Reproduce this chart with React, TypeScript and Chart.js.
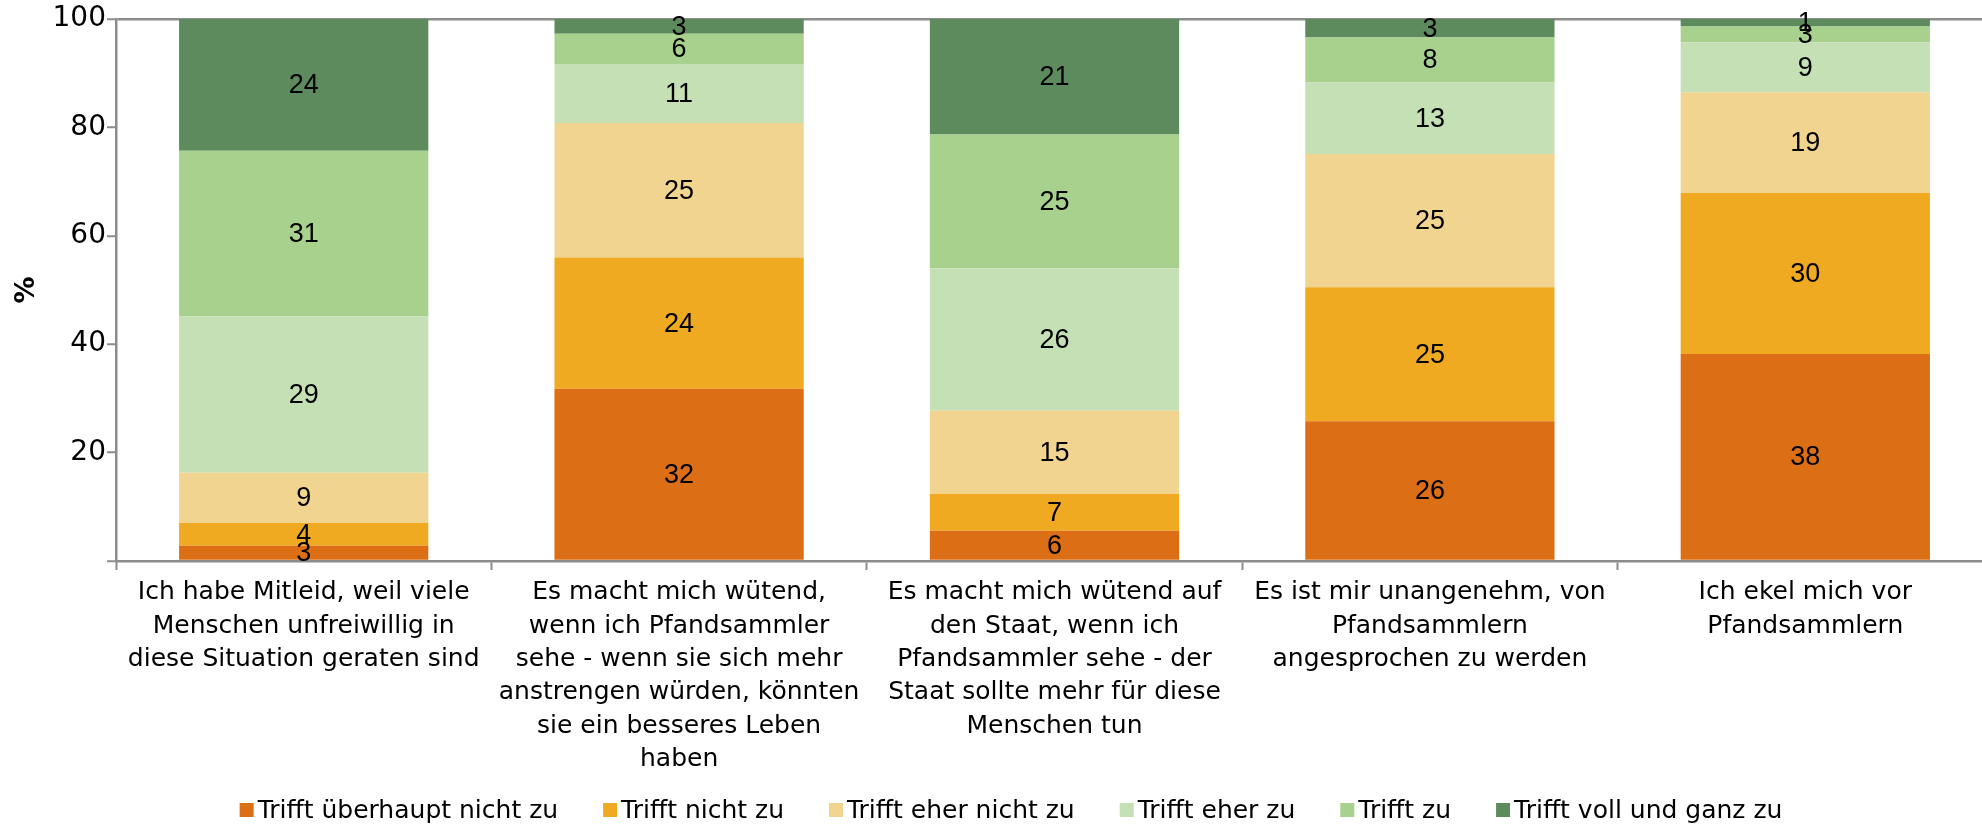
import React, { useEffect, useRef } from "react";
import { Chart, registerables } from "chart.js";

Chart.register(...registerables);

const categories: string[][] = [
  ["Ich habe Mitleid, weil viele", "Menschen unfreiwillig in", "diese Situation geraten sind"],
  ["Es macht mich wütend,", "wenn ich Pfandsammler", "sehe - wenn sie sich mehr", "anstrengen würden, könnten", "sie ein besseres Leben", "haben"],
  ["Es macht mich wütend auf", "den Staat, wenn ich", "Pfandsammler sehe - der", "Staat sollte mehr für diese", "Menschen tun"],
  ["Es ist mir unangenehm, von", "Pfandsammlern", "angesprochen zu werden"],
  ["Ich ekel mich vor", "Pfandsammlern"],
];

const seriesNames = [
  "Trifft überhaupt nicht zu",
  "Trifft nicht zu",
  "Trifft eher nicht zu",
  "Trifft eher zu",
  "Trifft zu",
  "Trifft voll und ganz zu",
];

const seriesColors = ["#DC6E16", "#F0AA22", "#F1D490", "#C5E0B4", "#A9D18E", "#5E8B5E"];

const ueberhauptNichtZu = [2.8, 31.8, 5.6, 25.8, 38.2];
const nichtZu = [4.2, 24.2, 6.8, 24.7, 29.7];
const eherNichtZu = [9.3, 24.8, 15.3, 24.6, 18.6];
const eherZu = [28.8, 10.9, 26.3, 13.2, 9.2];
const zu = [30.6, 5.6, 24.7, 8.3, 2.9];
const vollUndGanzZu = [24.3, 2.7, 21.3, 3.4, 1.4];

const seriesValues = [ueberhauptNichtZu, nichtZu, eherNichtZu, eherZu, zu, vollUndGanzZu];

const yTickValues = [0, 20, 40, 60, 80, 100];
const yTitle = "%";

const FONT = '"DejaVu Sans", sans-serif';
const LABEL_FONT = '"Liberation Sans", "DejaVu Sans", sans-serif';
const AXIS_GRAY = "#8C8C8C";

const dataLabelPlugin = {
  id: "dataLabels",
  afterDatasetsDraw(chart: any) {
    const ctx = chart.ctx;
    ctx.save();
    ctx.font = `27px ${LABEL_FONT}`;
    ctx.fillStyle = "#000";
    ctx.textAlign = "center";
    ctx.textBaseline = "middle";
    chart.data.datasets.forEach((ds: any, di: number) => {
      const meta = chart.getDatasetMeta(di);
      meta.data.forEach((el: any, i: number) => {
        const v = ds.data[i];
        const props = el.getProps(["x", "y", "base"], true);
        ctx.fillText(String(Math.round(v)), props.x, (props.y + props.base) / 2 + 1);
      });
    });
    ctx.restore();
  },
};

const legendPlugin = {
  id: "customLegend",
  afterDraw(chart: any) {
    const ctx = chart.ctx;
    ctx.save();
    ctx.font = `25px ${FONT}`;
    const box = 14;
    const gapBT = 4;
    const gapItems = 45;
    const widths = seriesNames.map((n) => ctx.measureText(n).width);
    const total = widths.reduce((a, w) => a + box + gapBT + w, 0) + gapItems * (seriesNames.length - 1);
    let x = 1011 - total / 2;
    const y = 810;
    ctx.textBaseline = "middle";
    ctx.textAlign = "left";
    seriesNames.forEach((n, i) => {
      ctx.fillStyle = seriesColors[i];
      ctx.fillRect(x, y - box / 2, box, box);
      ctx.fillStyle = "#000";
      ctx.fillText(n, x + box + gapBT, y + 1);
      x += box + gapBT + widths[i] + gapItems;
    });
    ctx.restore();
  },
};

export default function App() {
  const ref = useRef<HTMLCanvasElement | null>(null);
  useEffect(() => {
    if (!ref.current) return;
    Chart.defaults.font.family = FONT;
    Chart.defaults.color = "#000";
    const chart = new Chart(ref.current, {
      type: "bar",
      data: {
        labels: categories,
        datasets: seriesNames.map((name, i) => ({
          label: name,
          data: seriesValues[i],
          backgroundColor: seriesColors[i],
          borderWidth: 0,
          barPercentage: 0.664,
          categoryPercentage: 1,
        })),
      },
      options: {
        animation: false,
        responsive: false,
        maintainAspectRatio: false,
        layout: { padding: { top: 19, right: 7, bottom: 0, left: 0 } },
        plugins: {
          legend: { display: false },
          tooltip: { enabled: false },
        },
        scales: {
          x: {
            stacked: true,
            offset: true,
            grid: {
              offset: true,
              drawOnChartArea: false,
              drawTicks: true,
              tickLength: 9,
              tickColor: AXIS_GRAY,
              tickWidth: 2,
            },
            border: { display: true, color: AXIS_GRAY, width: 2.5 },
            ticks: {
              font: { size: 25, lineHeight: 1.336 },
              color: "#000",
              padding: 6,
              maxRotation: 0,
              autoSkip: false,
            },
            afterFit: (s: any) => {
              s.height = 827 - 561;
            },
          },
          y: {
            stacked: true,
            min: 0,
            max: 100,
            afterBuildTicks: (s: any) => {
              s.ticks = yTickValues.map((v) => ({ value: v }));
            },
            grid: {
              drawOnChartArea: true,
              color: (c: any) => (c.tick && c.tick.value === 100 ? AXIS_GRAY : "rgba(0,0,0,0)"),
              lineWidth: 2.5,
              drawTicks: true,
              tickLength: 9,
              tickColor: AXIS_GRAY,
              tickWidth: 2,
            },
            border: { display: true, color: AXIS_GRAY, width: 2.5 },
            ticks: {
              font: { size: 28 },
              color: "#000",
              padding: 1,
              callback: (v: any) => (v === 0 ? "" : String(v)),
            },
            title: {
              display: true,
              text: yTitle,
              font: { size: 27, weight: "bold" },
              color: "#000",
              padding: { top: 11, bottom: 0 },
            },
            afterFit: (s: any) => {
              s.width = 116;
            },
          },
        },
      },
      plugins: [dataLabelPlugin, legendPlugin],
    } as any);
    return () => chart.destroy();
  }, []);
  return (
    <div style={{ position: "fixed", left: 0, top: 0, width: 2000, height: 827, background: "#fff" }}>
      <canvas ref={ref} width={2000} height={827} style={{ width: 2000, height: 827 }} />
    </div>
  );
}
